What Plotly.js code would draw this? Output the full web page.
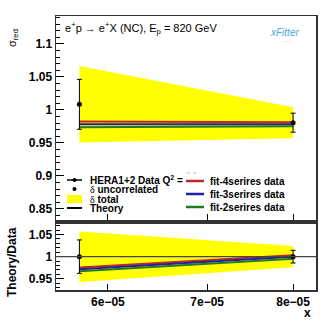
<!DOCTYPE html>
<html>
<head>
<meta charset="utf-8">
<script src="https://cdn.plot.ly/plotly-3.0.1.min.js"></script>
<style>
  html, body { margin: 0; padding: 0; background: #fff; }
  #chart { width: 332px; height: 323px; }
</style>
</head>
<body>
<div id="chart"></div>
<script>
// --- data ---
const xData = [5.74e-5, 8.0e-5];
const sigmaData = [1.0086, 0.9808];
const uncErr = [0.0378, 0.0144];
const totErr = [0.058, 0.0235];

const fit4 = [0.9826, 0.9814];
const fit3 = [0.9785, 0.9785];
const fit2 = [0.9738, 0.9753];

const ratioData = [1, 1];
const ratioUnc = [0.0377, 0.0143];
const ratioTot = [0.057, 0.024];
const ratioFit4 = [0.9756, 1.003];
const ratioFit3 = [0.9716, 1.0];
const ratioFit2 = [0.967, 0.9955];

const xTicks = [6e-5, 7e-5, 8e-5];
const xTickText = ['6e\u221205', '7e\u221205', '8e\u221205'];
const yTopTicks = [0.85, 0.9, 0.95, 1, 1.05, 1.1];
const yTopText = ['0.85', '0.9', '0.95', '1', '1.05', '1.1'];
const yRatTicks = [0.95, 1, 1.05];
const yRatText = ['0.95', '1', '1.05'];

const fitNames = ['fit-4serires data', 'fit-3serires data', 'fit-2serires data'];
const fitColors = ['#c0262b', '#2020a8', '#237a23'];

// --- helpers ---
const FONT = 'Liberation Sans, Arial, sans-serif';
const M = { l: 56, r: 16, t: 16, b: 33 };
const PW = 332 - M.l - M.r, PH = 323 - M.t - M.b;
const px = x => (x - M.l) / PW;
const py = y => (323 - M.b - y) / PH;

function band(x, c, e) {
    return {
        x: [x[0], x[1], x[1], x[0]],
        y: [c[0] + e[0], c[1] + e[1], c[1] - e[1], c[0] - e[0]]
    };
}

const topBand = band(xData, sigmaData, totErr);
const ratBand = band(xData, ratioData, ratioTot);

const traces = [
    { x: topBand.x, y: topBand.y, xaxis: 'x2', yaxis: 'y', mode: 'lines', fill: 'toself',
      fillcolor: '#ffff00', line: { width: 0 }, hoverinfo: 'skip' },
    ...[fit4, fit3, fit2].map((f, i) => ({
        x: xData, y: f, xaxis: 'x2', yaxis: 'y', mode: 'lines', name: fitNames[i],
        line: { color: fitColors[i], width: 2 }
    })),
    { x: xData, y: sigmaData, xaxis: 'x2', yaxis: 'y', mode: 'markers',
      marker: { color: '#000', size: 5 },
      error_y: { type: 'data', array: uncErr, color: '#000', thickness: 1, width: 2.5 } },

    { x: ratBand.x, y: ratBand.y, xaxis: 'x', yaxis: 'y2', mode: 'lines', fill: 'toself',
      fillcolor: '#ffff00', line: { width: 0 }, hoverinfo: 'skip' },
    ...[ratioFit4, ratioFit3, ratioFit2].map((f, i) => ({
        x: xData, y: f, xaxis: 'x', yaxis: 'y2', mode: 'lines',
        line: { color: fitColors[i], width: 2 }
    })),
    { x: xData, y: ratioData, xaxis: 'x', yaxis: 'y2', mode: 'markers',
      marker: { color: '#000', size: 5 },
      error_y: { type: 'data', array: ratioUnc, color: '#000', thickness: 1, width: 2.5 } }
];

const xRange = [Math.log10(5.535e-5), Math.log10(8.29e-5)];
const tickFont = { family: FONT, size: 12, color: '#000', weight: 'bold' };
const axisCommon = {
    showline: true, linecolor: '#333', linewidth: 1.5, mirror: true,
    ticks: 'inside', tickcolor: '#000', showgrid: false, zeroline: false
};

// --- legend (hand placed) ---
const legText = (x, y, text, opts = {}) => Object.assign({
    xref: 'paper', yref: 'paper', x: px(x), y: py(y), xanchor: 'left', yanchor: 'middle',
    text, showarrow: false, font: { family: FONT, size: 10, color: '#000', weight: 'bold' }
}, opts);
const legLine = (x0, x1, y, color, width) => ({
    type: 'line', xref: 'paper', yref: 'paper', x0: px(x0), x1: px(x1), y0: py(y), y1: py(y),
    line: { color, width }
});
const delta = '<span style="font-family:Liberation Serif;font-weight:normal">\u03b4</span>';

const annotations = [
    legText(63, 28, 'e<sup>+</sup>p \u2192 e<sup>+</sup>X (NC), E<sub>p</sub> = 820 GeV',
        { font: { family: FONT, size: 11, color: '#000' } }),
    legText(284, 32, '<i>xFitter</i>', { xanchor: 'center',
        font: { family: FONT, size: 10, color: '#4aa8e2' } }),
    legText(287, 40, '\u2024\u2024\u2024', { xanchor: 'center',
        font: { family: FONT, size: 6, color: '#999' } }),

    legText(88, 180, 'HERA1+2 Data Q<sup>2</sup> ='),
    legText(88, 189, delta + ' uncorrelated'),
    legText(88, 199, delta + ' total'),
    legText(88, 208, 'Theory'),
    ...fitNames.map((n, i) => legText(208, [181, 194, 207][i], n)),

    // axis titles
    { xref: 'paper', yref: 'paper', x: px(13), y: py(27), xanchor: 'center', yanchor: 'top',
      text: '\u03c3<sub>red</sub>', textangle: -90, showarrow: false,
      font: { family: FONT, size: 11, color: '#000' } },
    { xref: 'paper', yref: 'paper', x: px(12), y: py(262), xanchor: 'center', yanchor: 'middle',
      text: 'Theory/Data', textangle: -90, showarrow: false,
      font: { family: FONT, size: 12, color: '#000', weight: 'bold' } },
    { xref: 'paper', yref: 'paper', x: px(307), y: py(313), xanchor: 'center', yanchor: 'middle',
      text: 'x', showarrow: false,
      font: { family: FONT, size: 12, color: '#000', weight: 'bold' } }
];

const shapes = [
    legLine(67, 82, 180, '#000', 1.5),
    { type: 'circle', xref: 'paper', yref: 'paper', x0: px(72.5), x1: px(76.5), y0: py(182), y1: py(178),
      fillcolor: '#000', line: { width: 0 } },
    { type: 'circle', xref: 'paper', yref: 'paper', x0: px(72.5), x1: px(76.5), y0: py(191), y1: py(187),
      fillcolor: '#000', line: { width: 0 } },
    { type: 'rect', xref: 'paper', yref: 'paper', x0: px(67), x1: px(82), y0: py(203), y1: py(195),
      fillcolor: '#ffff00', line: { width: 0 } },
    legLine(67, 82, 208, '#000', 2),
    ...fitColors.map((c, i) => legLine(186, 204, [181, 194, 207][i], c, 2.5)),
    { type: 'line', xref: 'paper', yref: 'paper', x0: px(187), x1: px(199), y0: py(173), y1: py(173),
      line: { color: '#bbb', width: 1, dash: 'dot' } },
    // reference line at ratio 1
    { type: 'line', xref: 'x domain', yref: 'y2', x0: 0, x1: 1, y0: 1, y1: 1, layer: 'above',
      line: { color: '#444', width: 1.2 } }
];

const layout = {
    width: 332, height: 323,
    margin: M,
    paper_bgcolor: '#fff', plot_bgcolor: '#fff',
    showlegend: false,
    font: { family: FONT },
    xaxis: Object.assign({}, axisCommon, {
        type: 'log', range: xRange, anchor: 'y2', domain: [0, 1],
        tickvals: xTicks, ticktext: xTickText, ticklen: 6, tickfont: tickFont
    }),
    xaxis2: Object.assign({}, axisCommon, {
        type: 'log', range: xRange, anchor: 'y', domain: [0, 1], matches: 'x',
        tickvals: xTicks, ticklen: 6, showticklabels: false
    }),
    yaxis: Object.assign({}, axisCommon, {
        domain: [py(220), 1], range: [0.8333, 1.1424], anchor: 'x2',
        tickvals: yTopTicks, ticktext: yTopText, ticklen: 8, tickfont: tickFont,
        minor: { ticks: 'inside', dtick: 0.01, tick0: 0, ticklen: 4, tickcolor: '#000' }
    }),
    yaxis2: Object.assign({}, axisCommon, {
        domain: [0, py(223.5)], range: [0.9247, 1.0748], anchor: 'x',
        tickvals: yRatTicks, ticktext: yRatText, ticklen: 8, tickfont: tickFont,
        minor: { ticks: 'inside', dtick: 0.01, tick0: 0, ticklen: 4, tickcolor: '#000' }
    }),
    annotations, shapes
};

Plotly.newPlot('chart', traces, layout, { staticPlot: true, displayModeBar: false });
</script>
</body>
</html>
